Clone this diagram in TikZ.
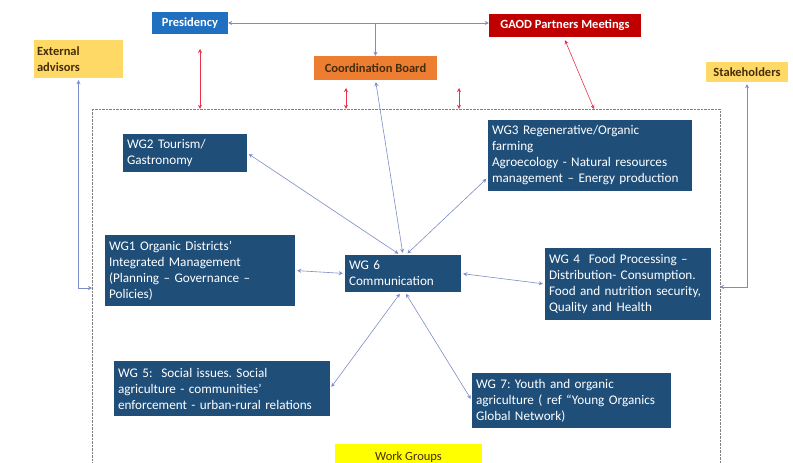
\documentclass[tikz,border=0pt]{standalone}
\usepackage{fontspec}
\setmainfont{Carlito}
\usetikzlibrary{arrows.meta}
\definecolor{presblue}{RGB}{31,112,193}
\definecolor{gaodred}{RGB}{192,0,0}
\definecolor{advyellow}{RGB}{255,217,102}
\definecolor{boardorange}{RGB}{237,125,49}
\definecolor{wgblue}{RGB}{31,78,121}
\definecolor{wgyellow}{RGB}{255,255,0}
\definecolor{linkblue}{RGB}{125,140,200}
\definecolor{linkred}{RGB}{235,50,75}
\definecolor{darktext}{RGB}{70,45,10}
\newcommand\frametop{109}
\frenchspacing

\begin{document}
\begin{tikzpicture}[x=1pt, y=-1pt, >={Stealth[length=4pt,width=4pt]},
    wg/.style = {fill=wgblue, text=white, align=left, inner xsep=4pt, inner ysep=3pt, font=\fontsize{13.2}{16}\selectfont},
    topbox/.style = {inner sep=3pt, font=\fontsize{12.5}{16}\selectfont\bfseries},
    link/.style = {<->, linkblue, semithick, shorten >=2pt, shorten <=2pt},
    redlink/.style = {<->, linkred, semithick}]

    \useasboundingbox (0,0) rectangle (793,463);

    % top row
    \node at (190, 23) [topbox, fill=presblue, text=white, minimum width=76pt, minimum height=22pt] (pres) {Presidency};
    \node at (565, 25.5) [topbox, fill=gaodred, text=white, minimum width=152pt, minimum height=23pt] (gaod) {GAOD Partners Meetings};
    \node at (78.5, 59) [topbox, fill=advyellow, text=darktext, align=left, text width=83pt, minimum height=38pt] (ext) {External\\advisors};
    \node at (375.5, 68) [topbox, fill=boardorange, text=darktext, minimum width=123pt, minimum height=24pt] (board) {Coordination Board};
    \node at (747, 72) [topbox, fill=advyellow, text=darktext, minimum width=82pt, minimum height=20pt] (stake) {Stakeholders};

    % work groups frame
    \node at (406, 294.5) [draw=gray, densely dotted, minimum width=628pt, minimum height=371pt] (frame) {};
    \node at (408.5, 457) [fill=wgyellow, text=darktext, minimum width=147pt, minimum height=26pt, font=\fontsize{12.5}{16}\selectfont] (groups) {Work Groups};

    \node at (185, 153) [wg, text width=116pt, minimum height=38pt] (wg2) {WG2 Tourism/\\Gastronomy};
    \node at (590, 155.5) [wg, text width=196pt, minimum height=71pt] (wg3) {WG3 Regenerative/Organic\\farming\\Agroecology - Natural resources\\management -- Energy production};
    \node at (200, 270.5) [wg, text width=182pt, minimum height=71pt] (wg1) {WG1 Organic Districts’\\Integrated Management\\(Planning -- Governance --\\Policies)};
    \node at (403, 273.5) [wg, text width=108pt, minimum height=37pt] (wg6) {WG 6\\Communication};
    \node at (628, 284) [wg, text width=158pt, minimum height=72pt] (wg4) {WG 4 \ Food Processing --\\Distribution- Consumption.\\Food and nutrition security,\\Quality and Health};
    \node at (222, 388.5) [wg, text width=208pt, minimum height=55pt] (wg5) {WG 5: \ Social issues. Social\\agriculture - communities’\\enforcement - urban-rural relations};
    \node at (571.5, 400.5) [wg, text width=191pt, minimum height=55pt] (wg7) {WG 7: Youth and organic\\agriculture ( ref “Young Organics\\Global Network)};

    %Presidency line
    \draw[link, shorten >=0pt, shorten <=0pt] (pres.east) -- (pres.east -| gaod.west);
    \draw[->, linkblue, semithick] (pres.east -| board.north) -- (board.north);

    %Red links to the frame
    \coordinate (rp) at (200, 49);
    \coordinate (rb1) at (346, 88);
    \coordinate (rb2) at (459, 88);
    \coordinate (rg) at (594, \frametop);
    \draw[redlink] (rp) -- (rp |- frame.north);
    \draw[redlink] (rb1) -- (rb1 |- frame.north);
    \draw[redlink] (rb2) -- (rb2 |- frame.north);
    \draw[redlink] ([yshift=-3pt]gaod.south) -- (rg);

    %Outside links
    \coordinate (extin) at (92, 288);
    \coordinate (stin) at (720, 287);
    \draw[link, shorten >=0pt] (ext.south) |- (extin);
    \draw[link, shorten >=0pt] (stake.south) |- (stin);

    %Work group links
    \draw[link] (board.south) -- (wg6.north);
    \draw[link] (wg2.east) -- ([xshift=-3pt]wg6.north);
    \draw[link] ([yshift=-22pt]wg3.west) -- ([xshift=3pt]wg6.north);
    \draw[link] (wg1.east) -- (wg6.west);
    \draw[link] (wg6.east) -- (wg4.west);
    \draw[link] ([xshift=-2pt]wg6.south) -- (wg5.east);
    \draw[link] ([xshift=2pt]wg6.south) -- (wg7.west);
\end{tikzpicture}
\end{document}
